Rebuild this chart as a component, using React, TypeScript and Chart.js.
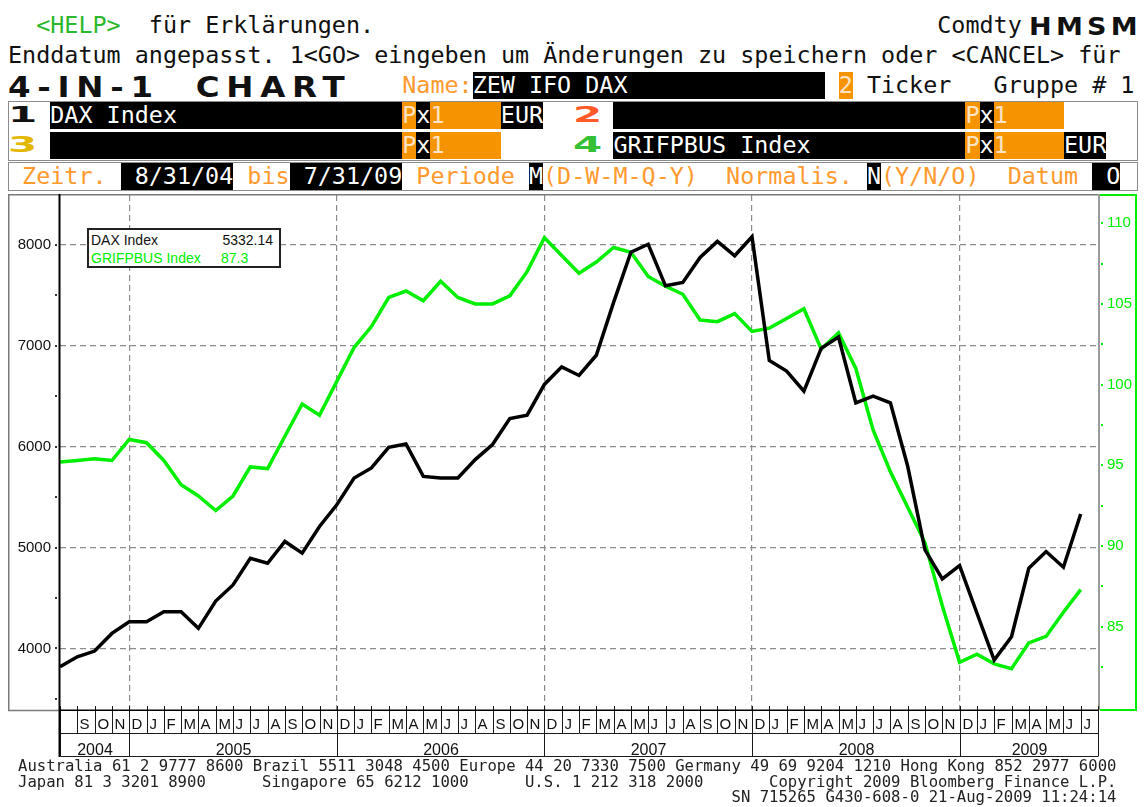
import React, { useEffect, useRef } from 'react';
import { Chart, registerables } from 'chart.js';

Chart.register(...registerables);

// ---------- data ----------
const monthLabels = ['', 'S', 'O', 'N', 'D',
  'J', 'F', 'M', 'A', 'M', 'J', 'J', 'A', 'S', 'O', 'N', 'D',
  'J', 'F', 'M', 'A', 'M', 'J', 'J', 'A', 'S', 'O', 'N', 'D',
  'J', 'F', 'M', 'A', 'M', 'J', 'J', 'A', 'S', 'O', 'N', 'D',
  'J', 'F', 'M', 'A', 'M', 'J', 'J', 'A', 'S', 'O', 'N', 'D',
  'J', 'F', 'M', 'A', 'M', 'J', 'J'];
const yearLabels = ['2004', '2005', '2006', '2007', '2008', '2009'];
const yearStarts = [0, 4, 16, 28, 40, 52];
const yearEnd = 60;

const daxTicks = [4000, 5000, 6000, 7000, 8000];
const grifpbusTicks = [85, 90, 95, 100, 105, 110];

const daxValues = [
  3818, 3917, 3974, 4149, 4265, 4265, 4364, 4364, 4199, 4470,
  4629, 4894, 4844, 5060, 4944, 5209, 5424, 5689, 5788, 5993,
  6026, 5705, 5689, 5689, 5871, 6020, 6278, 6311, 6616, 6790,
  6705, 6905, 7429, 7926, 8005, 7593, 7626, 7874, 8033, 7891,
  8079, 6854, 6748, 6550, 6974, 7086, 6434, 6500, 6434, 5805,
  4977, 4689, 4821, 4351, 3884, 4116, 4795, 4960, 4805, 5332.14,
];
const grifpbusValues = [
  95.2, 95.3, 95.4, 95.3, 96.6, 96.4, 95.3, 93.8, 93.1, 92.2,
  93.1, 94.9, 94.8, 96.8, 98.8, 98.1, 100.2, 102.3, 103.6, 105.4,
  105.8, 105.2, 106.4, 105.4, 105.0, 105.0, 105.5, 107.0, 109.1, 108.0,
  106.9, 107.6, 108.5, 108.2, 106.7, 106.1, 105.6, 104.0, 103.9, 104.4,
  103.3, 103.5, 104.1, 104.7, 102.2, 103.2, 101.0, 97.2, 94.6, 92.4,
  90.2, 86.3, 82.8, 83.3, 82.7, 82.4, 84.0, 84.4, 85.9, 87.3,
];
const legendNames = ['DAX Index', 'GRIFPBUS Index'];
const legendValues = ['5332.14', '87.3'];

// ---------- styling ----------
const MONO = '"DejaVu Sans Mono", "Liberation Mono", monospace';
const BIG = '"DejaVu Sans", "Liberation Sans", sans-serif';
const SANS = '"Liberation Sans", Arial, sans-serif';
const CW = 14.08;
const ORANGE_T = '#ff9a2e';
const ORANGE_B = '#f59300';
const PEACH = '#ffe3c4';
const GREEN = '#00ee00';
const ROWS = [11.5, 41.5, 71.5, 102, 131.5, 163];

type SegP = { row: number; col: number; n?: number; text?: string; color?: string; bg?: string };
function Seg({ row, col, n, text = '', color = '#111', bg }: SegP) {
  return (
    <div style={{
      position: 'absolute', left: 8 + col * CW, top: ROWS[row], width: n ? n * CW : undefined,
      height: 27, lineHeight: '27px', fontFamily: MONO, fontSize: 23.4, color, background: bg,
      whiteSpace: 'pre', overflow: 'hidden',
    }}>{text}</div>
  );
}

function Big({ left, top, size, text, color = '#111', sx, ls = 0 }: any) {
  return (
    <div style={{
      position: 'absolute', left, top, fontFamily: BIG, fontWeight: 'bold', fontSize: size,
      lineHeight: 1, letterSpacing: ls + 'px', whiteSpace: 'pre', color,
      transform: `scaleX(${sx})`, transformOrigin: 'left top',
    }}>{text}</div>
  );
}

const framePlugin = {
  id: 'bbgFrame',
  afterDraw(chart: any) {
    const { ctx, chartArea: ca, scales } = chart;
    const xs = scales.x, yl = scales.y, yr = scales.y1;
    const W = chart.width;
    const rowH = 23;
    const m0 = ca.bottom, m1 = m0 + rowH, m2 = m1 + rowH;
    const px = (k: number) => Math.round(xs.getPixelForValue(k)) + 0.5;
    ctx.save();
    ctx.setLineDash([]);
    // outer grey frame (left box + top)
    ctx.strokeStyle = '#7a7a7a';
    ctx.lineWidth = 1.5;
    ctx.beginPath();
    ctx.moveTo(0.75, m0); ctx.lineTo(0.75, 0.75); ctx.lineTo(ca.right, 0.75);
    ctx.moveTo(0, m0 + 0.5); ctx.lineTo(ca.left, m0 + 0.5);
    ctx.stroke();
    // right grey axis line
    ctx.strokeStyle = '#9a9a9a';
    ctx.lineWidth = 2;
    ctx.beginPath();
    ctx.moveTo(ca.right + 1, 0); ctx.lineTo(ca.right + 1, m0);
    ctx.stroke();
    // green right box
    ctx.strokeStyle = GREEN;
    ctx.lineWidth = 2;
    ctx.beginPath();
    ctx.moveTo(ca.right + 2, 1); ctx.lineTo(W - 2, 1); ctx.lineTo(W - 2, m0); ctx.lineTo(ca.right + 2, m0);
    ctx.stroke();
    // axis tick dots (major and half steps)
    ctx.fillStyle = '#333';
    for (let v = daxTicks[0] - 500; v <= daxTicks[daxTicks.length - 1]; v += 500) {
      const y = Math.round(yl.getPixelForValue(v));
      ctx.fillRect(ca.left - 5, y - 1, 2, 2);
    }
    ctx.fillStyle = GREEN;
    for (let v = grifpbusTicks[0] - 2.5; v <= grifpbusTicks[grifpbusTicks.length - 1]; v += 2.5) {
      const y = Math.round(yr.getPixelForValue(v));
      ctx.fillRect(ca.right + 3, y - 1, 2, 2);
    }
    // month / year table
    ctx.strokeStyle = '#1a1a1a';
    ctx.lineWidth = 1;
    ctx.beginPath();
    for (let k = 0; k <= yearEnd; k++) {
      ctx.moveTo(px(k), m0 - 4); ctx.lineTo(px(k), m1);
    }
    [...yearStarts, yearEnd].forEach((k) => { ctx.moveTo(px(k), m1); ctx.lineTo(px(k), m2); });
    ctx.moveTo(px(0), m1 + 0.5); ctx.lineTo(px(yearEnd), m1 + 0.5);
    ctx.moveTo(px(0), m2 + 0.5); ctx.lineTo(px(yearEnd), m2 + 0.5);
    ctx.stroke();
    // plot bottom line and left axis line
    ctx.strokeStyle = '#000';
    ctx.lineWidth = 1.5;
    ctx.beginPath();
    ctx.moveTo(ca.left, m0 + 0.25); ctx.lineTo(px(yearEnd), m0 + 0.25);
    ctx.stroke();
    ctx.lineWidth = 2;
    ctx.beginPath();
    ctx.moveTo(ca.left - 0.5, 0); ctx.lineTo(ca.left - 0.5, m2 + 1);
    ctx.stroke();
    // labels
    ctx.fillStyle = '#111';
    ctx.textBaseline = 'alphabetic';
    ctx.font = `15px ${SANS}`;
    ctx.textAlign = 'left';
    for (let k = 0; k < yearEnd; k++) {
      ctx.fillText(monthLabels[k], px(k) + 2, m0 + 19);
    }
    ctx.font = `16px ${SANS}`;
    ctx.textAlign = 'center';
    yearLabels.forEach((lab, i) => {
      const a = px(yearStarts[i]);
      const b = px(i + 1 < yearStarts.length ? yearStarts[i + 1] : yearEnd);
      ctx.fillText(lab, (a + b) / 2, m2 - 1);
    });
    ctx.restore();
  },
};

function BloombergChart() {
  const ref = useRef<HTMLCanvasElement>(null);
  useEffect(() => {
    if (!ref.current) return;
    const chart = new Chart(ref.current, {
      type: 'line',
      data: {
        datasets: [
          {
            label: legendNames[0],
            data: daxValues.map((v, i) => ({ x: i, y: v })),
            yAxisID: 'y',
            borderColor: '#000',
            borderWidth: 3.5,
            pointRadius: 0,
            tension: 0,
          },
          {
            label: legendNames[1],
            data: grifpbusValues.map((v, i) => ({ x: i, y: v })),
            yAxisID: 'y1',
            borderColor: GREEN,
            borderWidth: 3.5,
            pointRadius: 0,
            tension: 0,
          },
        ],
      },
      options: {
        animation: false,
        responsive: false,
        devicePixelRatio: 1,
        events: [],
        layout: { padding: { top: 1, left: 0, right: 0, bottom: 0 } },
        plugins: { legend: { display: false }, tooltip: { enabled: false } },
        scales: {
          x: {
            type: 'linear',
            min: 0,
            max: yearEnd,
            ticks: { display: false },
            grid: { color: '#8c8c8c', lineWidth: 1.2, drawTicks: false },
            border: { display: false, dash: [6, 4] },
            afterBuildTicks: (s: any) => { s.ticks = yearStarts.slice(1).map((v) => ({ value: v })); },
            afterFit: (s: any) => { s.height = 48; s.paddingLeft = 0; s.paddingRight = 0; },
          },
          y: {
            position: 'left',
            min: 3390,
            max: 8493,
            ticks: {
              color: '#111', padding: 9,
              font: { family: SANS, size: 15 },
              callback: (v: any) => String(v),
            },
            afterBuildTicks: (s: any) => { s.ticks = daxTicks.map((v) => ({ value: v })); },
            grid: { color: '#8c8c8c', lineWidth: 1.2, drawTicks: false },
            border: { display: false, dash: [6, 4] },
            afterFit: (s: any) => { s.width = 52; s.paddingTop = 0; s.paddingBottom = 0; },
          },
          y1: {
            position: 'right',
            min: 79.84,
            max: 111.75,
            ticks: {
              color: GREEN, padding: 9,
              font: { family: SANS, size: 15 },
              callback: (v: any) => String(v),
            },
            afterBuildTicks: (s: any) => { s.ticks = grifpbusTicks.map((v) => ({ value: v })); },
            grid: { display: false, drawTicks: false },
            border: { display: false },
            afterFit: (s: any) => { s.width = 40; s.paddingTop = 0; s.paddingBottom = 0; },
          },
        },
      } as any,
      plugins: [framePlugin],
    });
    return () => chart.destroy();
  }, []);
  return (
    <canvas ref={ref} width={1130} height={564}
      style={{ position: 'absolute', left: 8, top: 194, width: 1130, height: 564 }} />
  );
}

export default function App() {
  const pxBox = (row: number, col: number, n: number, text = '') => (
    <Seg row={row} col={col} n={n} text={text} color={PEACH} bg={ORANGE_B} />
  );
  const blk = (row: number, col: number, n: number, text = '') => (
    <Seg row={row} col={col} n={n} text={text} color="#fff" bg="#000" />
  );
  return (
    <div style={{ position: 'fixed', left: 0, top: 0, width: 1148, height: 807, background: '#fff', overflow: 'hidden' }}>
      {/* row 0 */}
      <Seg row={0} col={2} text="<HELP>" color="#2cb82c" />
      <Seg row={0} col={10} text="für Erklärungen." />
      <Seg row={0} col={66} text="Comdty" />
      <Big left={1029} top={13.9} size={25} text="HMSM" sx={1.08} ls={4} />
      {/* row 1 */}
      <Seg row={1} col={0} text="Enddatum angepasst. 1<GO> eingeben um Änderungen zu speichern oder <CANCEL> für" />
      {/* row 2 */}
      <Big left={8} top={72.5} size={29} text="4-IN-1  CHART" sx={1.12} ls={6} />
      <Seg row={2} col={28} text="Name:" color={ORANGE_T} />
      {blk(2, 33, 25, 'ZEW IFO DAX')}
      {pxBox(2, 59, 1, '2')}
      <Seg row={2} col={61} text="Ticker" />
      <Seg row={2} col={70} text="Gruppe # 1" />
      {/* rows 3-4 box */}
      <div style={{ position: 'absolute', left: 8, top: 101, width: 1130, height: 60, border: '1px solid #8c8c8c', boxSizing: 'border-box' }} />
      <Big left={8} top={105.2} size={21} text="1" sx={2} color="#111" />
      <Big left={8} top={135.2} size={21} text="3" sx={2} color="#e2b800" />
      <Big left={573} top={105.2} size={21} text="2" sx={2} color="#ff5a28" />
      <Big left={573} top={135.2} size={21} text="4" sx={2} color="#35c035" />
      {blk(3, 3, 25, 'DAX Index')}
      {pxBox(3, 28, 1, 'P')}
      {blk(3, 29, 1, 'x')}
      {pxBox(3, 30, 5, '1')}
      {blk(3, 35, 3, 'EUR')}
      {blk(3, 43, 25)}
      {pxBox(3, 68, 1, 'P')}
      {blk(3, 69, 1, 'x')}
      {pxBox(3, 70, 5, '1')}
      {blk(4, 3, 25)}
      {pxBox(4, 28, 1, 'P')}
      {blk(4, 29, 1, 'x')}
      {pxBox(4, 30, 5, '1')}
      {blk(4, 43, 25, 'GRIFPBUS Index')}
      {pxBox(4, 68, 1, 'P')}
      {blk(4, 69, 1, 'x')}
      {pxBox(4, 70, 5, '1')}
      {blk(4, 75, 3, 'EUR')}
      {/* row 5 */}
      <div style={{ position: 'absolute', left: 8, top: 162, width: 1130, height: 29, border: '1px solid #8c8c8c', boxSizing: 'border-box' }} />
      <Seg row={5} col={1} text="Zeitr." color={ORANGE_T} />
      {blk(5, 8, 8, ' 8/31/04')}
      <Seg row={5} col={17} text="bis" color={ORANGE_T} />
      {blk(5, 20, 8, ' 7/31/09')}
      <Seg row={5} col={29} text="Periode" color={ORANGE_T} />
      {blk(5, 37, 1, 'M')}
      <Seg row={5} col={38} text="(D-W-M-Q-Y)" color={ORANGE_T} />
      <Seg row={5} col={51} text="Normalis." color={ORANGE_T} />
      {blk(5, 61, 1, 'N')}
      <Seg row={5} col={62} text="(Y/N/O)" color={ORANGE_T} />
      <Seg row={5} col={71} text="Datum" color={ORANGE_T} />
      {blk(5, 77, 2, ' O')}

      <BloombergChart />

      {/* legend */}
      <div style={{ position: 'absolute', left: 87, top: 228, width: 194, height: 40, border: '2px solid #222', boxSizing: 'border-box', background: '#fff', fontFamily: SANS, fontSize: 14 }}>
        <div style={{ position: 'absolute', left: 2, top: 2.4, lineHeight: '16px', color: '#111' }}>{legendNames[0]}</div>
        <div style={{ position: 'absolute', right: 6, top: 2.4, lineHeight: '16px', color: '#111' }}>{legendValues[0]}</div>
        <div style={{ position: 'absolute', left: 2, top: 20.4, lineHeight: '16px', color: GREEN }}>{legendNames[1]}</div>
        <div style={{ position: 'absolute', left: 132, top: 20.4, lineHeight: '16px', color: GREEN }}>{legendValues[1]}</div>
      </div>

      {/* footer */}
      <div style={{ position: 'absolute', left: 18, top: 759, fontFamily: MONO, fontSize: 15.6, lineHeight: '15.5px', whiteSpace: 'pre', color: '#222' }}>
        {'Australia 61 2 9777 8600 Brazil 5511 3048 4500 Europe 44 20 7330 7500 Germany 49 69 9204 1210 Hong Kong 852 2977 6000\n'}
        {'Japan 81 3 3201 8900      Singapore 65 6212 1000      U.S. 1 212 318 2000       Copyright 2009 Bloomberg Finance L.P.\n'}
        {'                                                                            SN 715265 G430-608-0 21-Aug-2009 11:24:14'}
      </div>
    </div>
  );
}
